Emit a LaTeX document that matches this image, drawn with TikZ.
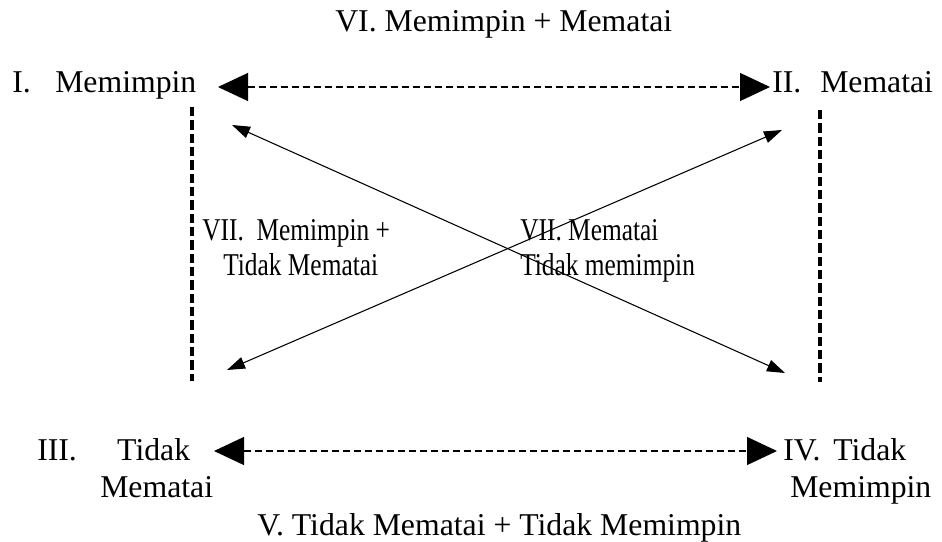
\documentclass[tikz,border=0pt]{standalone}
\usepackage{fontspec}
\setmainfont{Liberation Serif}
\usetikzlibrary{arrows.meta}
\begin{document}
\begin{tikzpicture}[x=0.75pt,y=-0.75pt,
  lbl/.style={anchor=base west,inner sep=0pt,font=\fontsize{23.8pt}{28pt}\selectfont},
  midlbl/.style={anchor=base west,inner sep=0pt,font=\fontsize{23.8pt}{28pt}\selectfont},
  mainlink/.style={line width=0.9pt,dash pattern=on 5.25pt off 3pt,{Triangle[length=22.5pt,width=21pt]}-{Triangle[length=22.5pt,width=21pt]}},
  crosslink/.style={line width=0.8pt,{Triangle[length=13.5pt,width=9pt]}-{Triangle[length=13.5pt,width=9pt]}},
  sideline/.style={line width=3pt,dash pattern=on 7pt off 3pt}]
\useasboundingbox (0,0) rectangle (942,542);
% labels
\node[lbl] (t6) at (335,32) {VI. Memimpin + Mematai};
\node[lbl] (n1) at (12,93) {\makebox[32.25pt][l]{I.}Memimpin};
\node[lbl] (n2) at (772,93) {\makebox[36pt][l]{II.}Mematai};
\node[midlbl] (l7a) at (202,240) {\scalebox{0.8}[1]{VII.\ \ Memimpin +}};
\node[midlbl] (l7b) at (223,275) {\scalebox{0.8}[1]{Tidak Mematai}};
\node[midlbl] (r7a) at (520,240) {\scalebox{0.8}[1]{VII. Mematai}};
\node[midlbl] (r7b) at (520,275) {\scalebox{0.8}[1]{Tidak memimpin}};
\node[lbl] (n3) at (37,460) {\makebox[60pt][l]{III.}Tidak};
\node[lbl] (n3b) at (100,497) {Mematai};
\node[lbl] (n4) at (783,460) {\makebox[37.5pt][l]{IV.}Tidak};
\node[lbl] (n4b) at (790,497) {Memimpin};
\node[lbl] (t5) at (257,535) {V. Tidak Mematai + Tidak Memimpin};
% coordinates
\coordinate (a1) at (218,87);
\coordinate (a2) at (770,87);
\coordinate (b1) at (214,451);
\coordinate (b2) at (777,451);
\coordinate (c1) at (232,125);
\coordinate (c2) at (785,373);
\coordinate (d1) at (227,370);
\coordinate (d2) at (782,130);
\coordinate (v1t) at (192,107);
\coordinate (v1b) at (192,381);
\coordinate (v2t) at (820,110);
\coordinate (v2b) at (820,382);
% connectors
\draw[mainlink] (a1) -- (a2);
\draw[mainlink] (b1) -- (b2);
\draw[crosslink] (c1) -- (c2);
\draw[crosslink] (d1) -- (d2);
\draw[sideline] (v1t) -- (v1b);
\draw[sideline] (v2t) -- (v2b);
\end{tikzpicture}
\end{document}
